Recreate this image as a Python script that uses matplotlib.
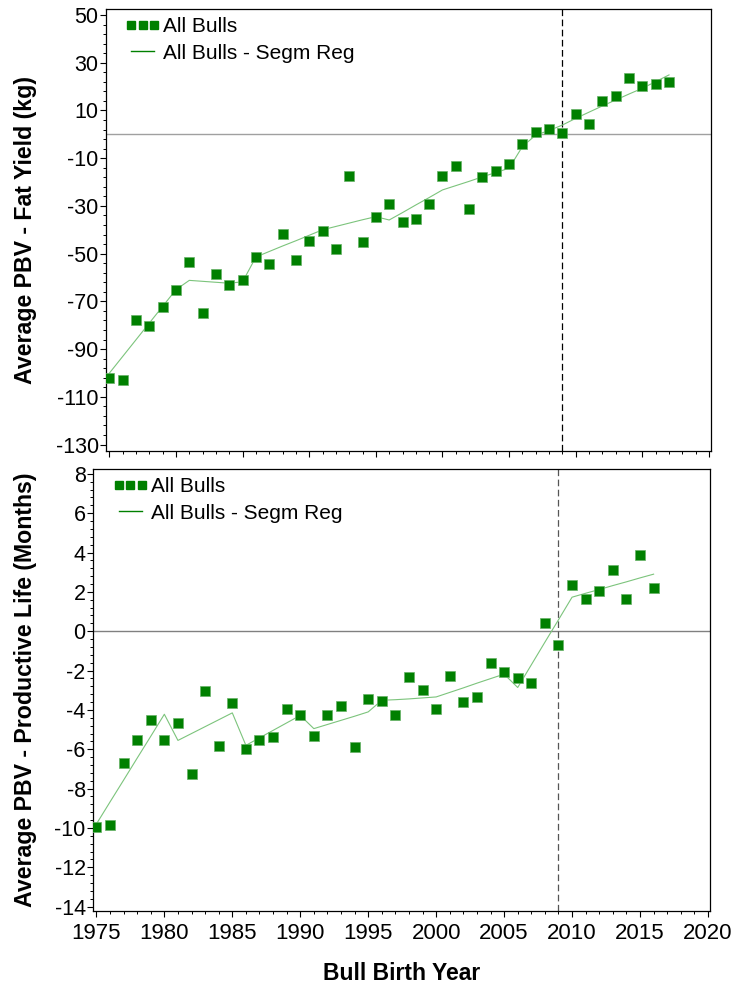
import numpy as np
import matplotlib
matplotlib.use('Agg')
import matplotlib.pyplot as plt
from matplotlib.lines import Line2D
from matplotlib.legend_handler import HandlerLine2D
from matplotlib.ticker import MultipleLocator, AutoMinorLocator

plt.rcParams['font.family'] = ['Liberation Sans', 'DejaVu Sans']
plt.rcParams['axes.unicode_minus'] = False

# Fat yield (top panel), birth years 1975-2017
fat_years = np.arange(1975, 2018)
fat_pbv = [-102.2, -102.9, -77.8, -80.3, -72.2, -65.1, -53.3, -74.7, -58.5, -63.1,
           -61.2, -51.4, -54.2, -41.6, -52.8, -44.8, -40.5, -48.0, -17.4, -45.1,
           -34.5, -29.2, -36.6, -35.6, -29.3, -17.3, -13.2, -31.4, -17.7, -15.5,
           -12.5, -4.0, 1.0, 2.4, 0.5, 8.5, 4.2, 14.1, 16.0, 23.8,
           20.4, 21.0, 22.0]
fat_segreg = [-100.1, -93.1, -86.1, -79.1, -72.1, -65.1, -61.2, -61.6, -62.0, -62.4,
              -61.8, -51.4, -49.1, -46.8, -44.6, -42.3, -40.0, -38.6, -37.2, -35.8,
              -34.5, -35.9, -32.8, -29.6, -26.5, -23.3, -21.5, -19.7, -17.8, -16.0,
              -14.2, -5.1, -0.3, 1.6, 3.9, 6.7, 9.3, 11.9, 14.4, 16.9,
              19.3, 22.1, 24.9]
fat_yticks = [-130, -110, -90, -70, -50, -30, -10, 10, 30, 50]

# Productive life (bottom panel), birth years 1975-2016
pl_years = np.arange(1975, 2017)
pl_pbv = [-9.97, -9.85, -6.71, -5.55, -4.53, -5.55, -4.65, -7.27, -3.02, -5.84,
          -3.63, -6.0, -5.52, -5.4, -3.97, -4.28, -5.33, -4.24, -3.82, -5.89,
          -3.42, -3.56, -4.26, -2.32, -3.0, -3.93, -2.29, -3.6, -3.34, -1.6,
          -2.08, -2.39, -2.61, 0.42, -0.70, 2.37, 1.63, 2.05, 3.11, 1.66,
          3.85, 2.19]
pl_segreg = [-9.8, -8.68, -7.57, -6.45, -5.34, -4.22, -5.55, -5.2, -4.85, -4.5,
             -4.15, -5.8, -5.42, -5.04, -4.66, -4.28, -4.95, -4.74, -4.53, -4.32,
             -4.1, -3.51, -3.48, -3.44, -3.39, -3.34, -3.11, -2.88, -2.64, -2.41,
             -2.18, -2.86, -1.71, -0.56, 0.58, 1.73, 1.93, 2.12, 2.32, 2.51,
             2.71, 2.9]
pl_yticks = [-14, -12, -10, -8, -6, -4, -2, 0, 2, 4, 6, 8]

break_year = 2009

dark_green = '#008000'
line_green = '#7cc47c'

fig = plt.figure(figsize=(7.36, 9.84), dpi=100)
ax1 = fig.add_axes([106 / 736, 1 - 450.5 / 984, 605 / 736, 441.2 / 984])
ax2 = fig.add_axes([93 / 736, 1 - 911 / 984, 617 / 736, 441.7 / 984])


def style_panel(ax, years, pbv, segreg, ylim, yticks, zero_color, vline_color):
    ax.axhline(0, color=zero_color, lw=1.0, zorder=1)
    ax.axvline(break_year, color=vline_color, lw=0.9, linestyle=(0, (5.3, 2.8)), zorder=1)
    ax.plot(years, segreg, color=line_green, lw=0.8, zorder=2)
    ax.plot(years, pbv, linestyle='none', marker='s', ms=7.2, color=dark_green,
            mec='#66b266', mew=0.5, zorder=3)
    ax.set_xlim(1974.75, 2020.15)
    ax.set_ylim(*ylim)
    ax.xaxis.set_major_locator(MultipleLocator(5))
    ax.xaxis.set_minor_locator(MultipleLocator(1))
    ax.set_yticks(yticks)
    ax.yaxis.set_minor_locator(AutoMinorLocator(5))
    ax.tick_params(axis='both', which='major', direction='out', length=4.3, width=0.8)
    ax.tick_params(axis='both', which='minor', direction='out', length=2.3, width=0.7)
    ax.tick_params(axis='y', labelsize=15.5, pad=1)
    ax.tick_params(axis='x', labelsize=16, pad=4.5)
    ax.tick_params(top=False, right=False, which='both')
    for sp in ax.spines.values():
        sp.set_linewidth(0.9)
    handles = [Line2D([], [], linestyle='none', marker='s', ms=6.4, color=dark_green),
               Line2D([], [], color=dark_green, lw=1.0)]
    ax.legend(handles, ['All Bulls', 'All Bulls - Segm Reg'], loc='upper left',
              bbox_to_anchor=(0.036, 0.982), frameon=False, fontsize=15, numpoints=3,
              handlelength=1.45, handletextpad=0.25, labelspacing=0.35,
              borderaxespad=0, borderpad=0,
              handler_map={Line2D: HandlerLine2D(marker_pad=0.17)})


style_panel(ax1, fat_years, fat_pbv, fat_segreg, (-132.5, 52.4), fat_yticks, '#a0a0a0', 'black')
ax1.tick_params(axis='x', labelbottom=False)

style_panel(ax2, pl_years, pl_pbv, pl_segreg, (-14.22, 8.23), pl_yticks, '#808080', '#555555')

fig.text(26 / 736, 1 - 230 / 984, 'Average PBV - Fat Yield (kg)', rotation=90,
         ha='center', va='center', fontsize=16.7, fontweight='bold')
fig.text(26 / 736, 1 - 690 / 984, 'Average PBV - Productive Life (Months)', rotation=90,
         ha='center', va='center', fontsize=16.7, fontweight='bold')
fig.text(401.5 / 736, 1 - 973 / 984, 'Bull Birth Year', ha='center', va='center',
         fontsize=16.5, fontweight='bold')

fig.savefig('out.png', dpi=100)
